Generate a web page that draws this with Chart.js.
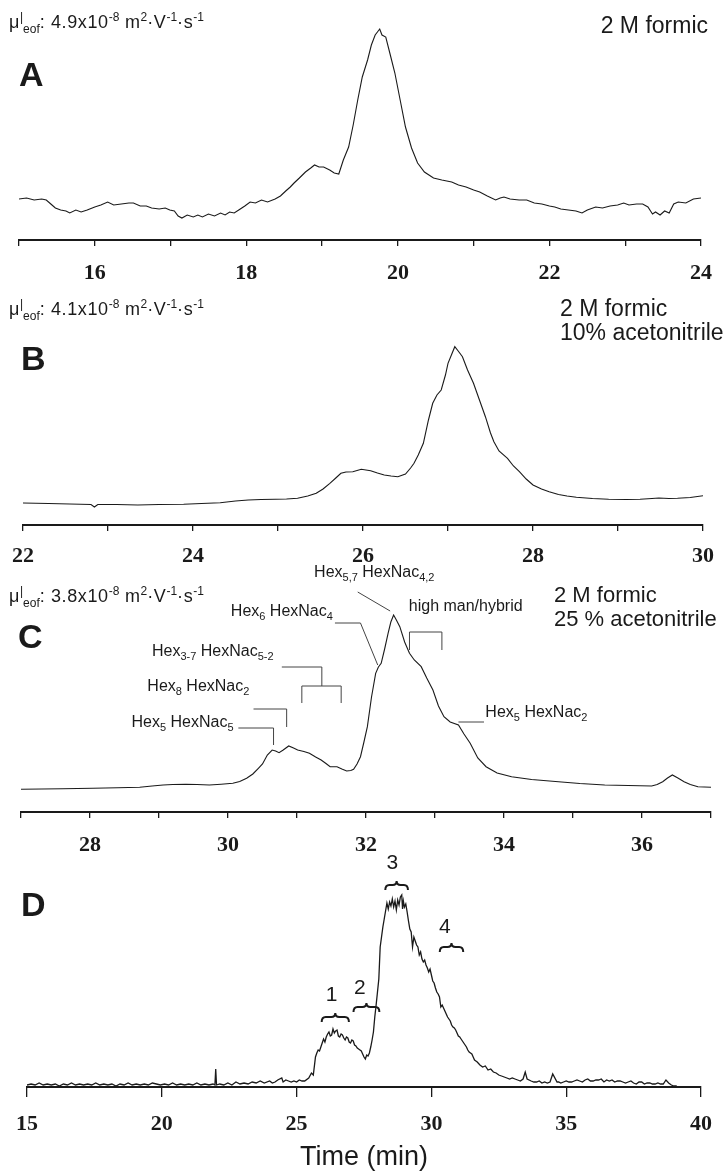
<!DOCTYPE html>
<html>
<head>
<meta charset="utf-8">
<script src="https://cdn.jsdelivr.net/npm/chart.js@4.4.0/dist/chart.umd.min.js"></script>
<style>
  html, body { margin: 0; padding: 0; background: #fff; }
  #page { position: relative; width: 726px; height: 1174px; overflow: hidden; font-family: "Liberation Sans", Arial, sans-serif; color: #1a1a1a; }
  canvas { position: absolute; left: 0; }
  .txt { position: absolute; white-space: nowrap; line-height: 1; }
  .mu { font-size: 18px; letter-spacing: 0.6px; }
  .mu sup, .mu sub { font-size: 12px; line-height: 0; letter-spacing: 0; }
  .cond { font-size: 23px; line-height: 24px; }
  .cond.c { font-size: 22px; }
  .panel { font-weight: bold; font-size: 34px; }
</style>
</head>
<body>
<div id="page">
  <canvas id="chartA" width="726" height="290" style="top:0px"></canvas>
  <canvas id="chartB" width="726" height="290" style="top:285px"></canvas>
  <canvas id="chartC" width="726" height="300" style="top:560px"></canvas>
  <canvas id="chartD" width="726" height="334" style="top:840px"></canvas>

  <div class="txt mu" style="left:9px;top:13px">μ<sup>|</sup><sub>eof</sub>: 4.9x10<sup>-8</sup> m<sup>2</sup>·V<sup>-1</sup>·s<sup>-1</sup></div>
  <div class="txt cond" style="right:18px;top:13px">2 M formic</div>
  <div class="txt panel" style="left:19px;top:57px">A</div>

  <div class="txt mu" style="left:9px;top:300px">μ<sup>|</sup><sub>eof</sub>: 4.1x10<sup>-8</sup> m<sup>2</sup>·V<sup>-1</sup>·s<sup>-1</sup></div>
  <div class="txt cond" style="left:560px;top:296px">2 M formic<br>10% acetonitrile</div>
  <div class="txt panel" style="left:21px;top:341px">B</div>

  <div class="txt mu" style="left:9px;top:587px">μ<sup>|</sup><sub>eof</sub>: 3.8x10<sup>-8</sup> m<sup>2</sup>·V<sup>-1</sup>·s<sup>-1</sup></div>
  <div class="txt cond c" style="left:554px;top:583px">2 M formic<br>25 % acetonitrile</div>
  <div class="txt panel" style="left:18px;top:619px">C</div>

  <div class="txt panel" style="left:21px;top:887px">D</div>
</div>

<script>
// A: 2 M formic
const timeA = [15.0, 15.1, 15.2, 15.3, 15.36, 15.42, 15.48, 15.55, 15.62, 15.67, 15.75, 15.82, 15.9, 16.0, 16.08, 16.17, 16.25, 16.35, 16.45, 16.51, 16.6, 16.68, 16.75, 16.85, 16.93, 16.99, 17.05, 17.1, 17.15, 17.22, 17.3, 17.36, 17.42, 17.5, 17.58, 17.66, 17.72, 17.78, 17.84, 17.9, 17.98, 18.05, 18.12, 18.2, 18.28, 18.38, 18.45, 18.52, 18.58, 18.63, 18.7, 18.78, 18.85, 18.9, 18.96, 19.02, 19.1, 19.16, 19.22, 19.28, 19.35, 19.41, 19.47, 19.53, 19.6, 19.65, 19.7, 19.74, 19.76, 19.79, 19.84, 19.9, 19.96, 20.03, 20.1, 20.18, 20.26, 20.35, 20.47, 20.58, 20.71, 20.8, 20.9, 21.0, 21.08, 21.18, 21.29, 21.35, 21.4, 21.48, 21.6, 21.7, 21.8, 21.9, 22.0, 22.07, 22.15, 22.25, 22.35, 22.43, 22.5, 22.61, 22.7, 22.8, 22.9, 22.98, 23.05, 23.15, 23.23, 23.3, 23.36, 23.4, 23.46, 23.52, 23.58, 23.64, 23.7, 23.8, 23.9, 24.0];
const signalA = [41, 42, 40, 41, 40, 36, 32, 30, 29, 27, 30, 28, 30, 33, 35, 38, 35, 36, 37, 37, 34, 34, 32, 31, 32, 30, 29, 24, 22, 25, 23, 25, 23, 26, 24, 27, 25, 28, 27, 30, 34, 38, 37, 40, 38, 41, 44, 49, 53, 57, 62, 68, 72, 75, 73, 73, 70, 67, 66, 80, 93, 115, 140, 163, 180, 195, 205, 209, 211, 205, 203, 185, 167, 140, 113, 92, 77, 68, 62, 60, 58, 55, 53, 50, 48, 44, 40, 42, 43, 41, 40, 40, 37, 36, 34, 33, 31, 30, 29, 27, 30, 33, 32, 34, 35, 37, 35, 36, 36, 33, 26, 28, 25, 29, 27, 36, 38, 37, 41, 42];
const ticksA = [15, 16, 17, 18, 19, 20, 21, 22, 23, 24];
const labelsA = [16, 18, 20, 22, 24];

// B: 2 M formic, 10% acetonitrile
const timeB = [22.0, 22.3, 22.55, 22.8, 22.84, 22.88, 23.1, 23.35, 23.6, 23.89, 24.1, 24.32, 24.5, 24.65, 24.8, 24.97, 25.1, 25.23, 25.35, 25.45, 25.53, 25.61, 25.68, 25.74, 25.8, 25.88, 25.98, 26.09, 26.17, 26.25, 26.33, 26.41, 26.5, 26.56, 26.6, 26.65, 26.71, 26.77, 26.82, 26.87, 26.92, 26.97, 27.0, 27.04, 27.08, 27.12, 27.17, 27.23, 27.3, 27.37, 27.44, 27.5, 27.54, 27.6, 27.7, 27.77, 27.84, 27.92, 28.0, 28.1, 28.19, 28.3, 28.4, 28.51, 28.7, 28.89, 29.1, 29.26, 29.4, 29.48, 29.6, 29.7, 29.85, 30.0];
const signalB = [22, 21.5, 21, 20.5, 18, 20.5, 20.5, 20, 20.5, 20.7, 21.5, 22.3, 24, 25, 25.5, 25.7, 26, 26.7, 29, 31.7, 36, 41.7, 47, 51.7, 53, 53.3, 55.7, 54.3, 52, 50, 49, 48.3, 51, 57, 61.7, 70, 81.7, 105, 121.7, 130, 135, 150, 161.7, 170, 178.3, 174, 168.3, 155, 141.7, 125, 108.3, 92, 83.3, 74, 66.7, 59, 53.3, 46, 40, 36, 33.3, 30.5, 29, 27.7, 26.5, 25.7, 25.5, 25.7, 26.5, 27, 26.5, 26.7, 27.5, 29.3];
const ticksB = [22, 23, 24, 25, 26, 27, 28, 29, 30];
const labelsB = [22, 24, 26, 28, 30];

// C: 2 M formic, 25 % acetonitrile
const timeC = [27.0, 27.3, 27.6, 28.04, 28.4, 28.72, 28.9, 29.06, 29.2, 29.39, 29.55, 29.73, 29.9, 30.07, 30.17, 30.27, 30.36, 30.44, 30.5, 30.57, 30.64, 30.69, 30.74, 30.8, 30.88, 30.95, 31.01, 31.1, 31.18, 31.27, 31.35, 31.42, 31.48, 31.58, 31.65, 31.72, 31.78, 31.82, 31.87, 31.92, 31.97, 32.02, 32.08, 32.14, 32.18, 32.22, 32.27, 32.32, 32.36, 32.4, 32.44, 32.49, 32.56, 32.63, 32.7, 32.8, 32.88, 32.97, 33.05, 33.13, 33.22, 33.34, 33.42, 33.51, 33.62, 33.74, 33.9, 34.11, 34.4, 34.79, 35.1, 35.46, 35.8, 36.14, 36.22, 36.3, 36.37, 36.44, 36.52, 36.61, 36.7, 36.81, 37.0];
const signalC = [22.7, 23, 23.2, 23.7, 24.2, 24.7, 26, 27, 27.5, 27.7, 27.5, 27, 27.8, 28.7, 30.5, 33.7, 38, 43.7, 48, 57, 62, 61, 59.3, 62, 66, 64, 62, 60.5, 58.7, 55, 52, 48.5, 45.3, 45.3, 43, 41, 41.5, 42.7, 48, 55.3, 70, 85.3, 115, 138.7, 145, 148.7, 163, 178.7, 190, 197, 192, 185.3, 170, 158.7, 152, 145.3, 134, 122, 106, 95.3, 90, 87, 78, 68.7, 54, 45.3, 39, 35.3, 32.5, 30.3, 28.5, 27, 26.5, 26, 27.5, 30.3, 34, 37, 34, 30.3, 27.5, 25.3, 24.7];
const ticksC = [27, 28, 29, 30, 31, 32, 33, 34, 35, 36, 37];
const labelsC = [28, 30, 32, 34, 36];

// glycan assignments in C: label anchors and leader lines in (time, signal)
const glycanLabels = [
  { parts: [['Hex', 0], ['5,7', 1], [' HexNac', 0], ['4,2', 1]], t: 32.12, h: 239, align: 'center' },
  { parts: [['high man/hybrid', 0]], t: 32.62, h: 205, align: 'left' },
  { parts: [['Hex', 0], ['6', 1], [' HexNac', 0], ['4', 1]], t: 31.52, h: 200, align: 'right' },
  { parts: [['Hex', 0], ['3-7', 1], [' HexNac', 0], ['5-2', 1]], t: 30.66, h: 160, align: 'right' },
  { parts: [['Hex', 0], ['8', 1], [' HexNac', 0], ['2', 1]], t: 30.31, h: 125, align: 'right' },
  { parts: [['Hex', 0], ['5', 1], [' HexNac', 0], ['5', 1]], t: 30.08, h: 89, align: 'right' },
  { parts: [['Hex', 0], ['5', 1], [' HexNac', 0], ['2', 1]], t: 33.73, h: 99, align: 'left' }
];
const glycanLeaders = [
  [[31.88, 220], [32.35, 201]],
  [[32.63, 162], [32.63, 180], [33.1, 180], [33.1, 162]],
  [[31.55, 189], [31.92, 189], [32.17, 147]],
  [[30.78, 145], [31.36, 145], [31.36, 126]],
  [[31.07, 109], [31.07, 126], [31.64, 126], [31.64, 109]],
  [[30.37, 103], [30.85, 103], [30.85, 85]],
  [[30.15, 84], [30.66, 84], [30.66, 67]],
  [[33.34, 90], [33.71, 90]]
];

// D: fraction collection run
const timeD = [15.0, 15.15, 15.3, 15.45, 15.6, 15.75, 15.9, 16.05, 16.2, 16.35, 16.5, 16.65, 16.8, 16.95, 17.1, 17.25, 17.4, 17.55, 17.7, 17.85, 18.0, 18.15, 18.3, 18.45, 18.6, 18.75, 18.9, 19.05, 19.2, 19.35, 19.5, 19.65, 19.8, 19.95, 20.1, 20.25, 20.4, 20.55, 20.7, 20.85, 21.0, 21.15, 21.3, 21.45, 21.6, 21.75, 21.9, 21.97, 22.0, 22.03, 22.15, 22.3, 22.45, 22.6, 22.75, 22.9, 23.05, 23.2, 23.35, 23.5, 23.65, 23.8, 24.0, 24.1, 24.2, 24.3, 24.45, 24.5, 24.6, 24.7, 24.8, 24.9, 25.0, 25.1, 25.2, 25.3, 25.45, 25.55, 25.62, 25.7, 25.75, 25.8, 25.85, 25.9, 25.95, 26.0, 26.05, 26.1, 26.15, 26.2, 26.25, 26.3, 26.35, 26.4, 26.45, 26.5, 26.55, 26.6, 26.65, 26.7, 26.75, 26.8, 26.85, 26.9, 26.95, 27.0, 27.05, 27.1, 27.15, 27.2, 27.25, 27.3, 27.35, 27.4, 27.45, 27.5, 27.55, 27.6, 27.65, 27.7, 27.75, 27.8, 27.85, 27.9, 27.95, 28.0, 28.05, 28.1, 28.15, 28.2, 28.25, 28.3, 28.35, 28.4, 28.45, 28.5, 28.55, 28.6, 28.65, 28.7, 28.75, 28.8, 28.85, 28.9, 28.93, 28.96, 29.0, 29.05, 29.1, 29.15, 29.2, 29.25, 29.3, 29.35, 29.4, 29.45, 29.5, 29.55, 29.6, 29.65, 29.7, 29.75, 29.8, 29.85, 29.9, 29.95, 30.0, 30.05, 30.1, 30.15, 30.2, 30.25, 30.3, 30.35, 30.4, 30.45, 30.5, 30.55, 30.6, 30.65, 30.7, 30.75, 30.8, 30.85, 30.9, 30.95, 31.0, 31.05, 31.1, 31.15, 31.2, 31.25, 31.3, 31.35, 31.4, 31.45, 31.5, 31.55, 31.6, 31.65, 31.7, 31.8, 31.9, 32.0, 32.1, 32.2, 32.3, 32.4, 32.5, 32.6, 32.7, 32.8, 32.9, 33.0, 33.1, 33.2, 33.3, 33.4, 33.48, 33.55, 33.7, 33.8, 33.9, 34.0, 34.1, 34.2, 34.3, 34.4, 34.5, 34.66, 34.72, 34.8, 34.9, 35.0, 35.1, 35.2, 35.3, 35.4, 35.5, 35.6, 35.7, 35.8, 35.9, 36.0, 36.1, 36.2, 36.3, 36.4, 36.5, 36.6, 36.7, 36.8, 36.9, 37.0, 37.1, 37.2, 37.3, 37.4, 37.5, 37.6, 37.7, 37.8, 37.9, 38.0, 38.1, 38.2, 38.3, 38.4, 38.5, 38.6, 38.7, 38.8, 38.9, 39.0, 39.05, 39.1, 39.25, 39.5, 39.8, 40.0];
const signalD = [2, 3, 2, 4, 2, 3, 2, 3, 1, 3, 2, 4, 2, 3, 2, 3, 2, 4, 2, 3, 2, 3, 1, 3, 2, 4, 2, 3, 2, 3, 2, 4, 3, 2, 3, 2, 4, 2, 3, 2, 3, 2, 4, 2, 3, 2, 3, 2, 18, 2, 3, 2, 4, 2, 5, 3, 4, 3, 5, 4, 6, 4, 6, 4, 5, 7, 9, 5, 7, 6, 5, 6, 5, 7, 6, 6, 9, 14, 12, 30, 34, 37, 36, 40, 44, 48, 45, 50, 53, 55, 51, 52, 58, 54, 56, 57, 51, 50, 53, 52, 49, 47, 50, 49, 45, 44, 47, 46, 42, 41, 39, 38, 37, 36, 33, 30, 28, 32, 31, 34, 40, 47, 55, 70, 82, 95, 108, 140, 150, 160, 168, 176, 184, 178, 185, 181, 188, 180, 186, 177, 187, 182, 190, 192, 178, 186, 180, 183, 175, 166, 158, 155, 140, 150, 146, 142, 140, 132, 135, 128, 125, 127, 122, 119, 115, 118, 112, 106, 104, 99, 95, 93, 90, 80, 82, 79, 76, 73, 70, 68, 66, 62, 60, 59, 57, 54, 51, 50, 48, 46, 44, 42, 40, 37, 35, 34, 33, 30, 27, 26, 25, 22, 20, 21, 17, 18, 15, 14, 12, 11, 10, 9, 8, 9, 8, 7, 6, 8, 15, 8, 6, 5, 5, 6, 4, 5, 4, 5, 13, 5, 5, 4, 5, 6, 5, 5, 6, 7, 6, 5, 7, 8, 6, 6, 7, 7, 8, 5, 7, 6, 7, 5, 6, 6, 5, 4, 5, 6, 4, 3, 5, 5, 3, 4, 4, 3, 3, 4, 3, 3, 7, 4, 2, 1, 1, 1];
const ticksD = [15, 20, 25, 30, 35, 40];
const labelsD = [15, 20, 25, 30, 35, 40];

// collected fractions 1-4 in D
const fractionNames = ['1', '2', '3', '4'];
const fractionStart = [25.93, 27.11, 28.29, 30.31];
const fractionEnd = [26.94, 28.07, 29.13, 31.18];
const fractionLevel = [70, 80, 202, 140];
const fractionLabelT = [26.3, 27.35, 28.55, 30.5];
const fractionLabelH = [92, 99, 224, 160];

const INK = '#1a1a1a';
const SANS = '"Liberation Sans", Arial, sans-serif';

function drawRich(ctx, parts, x, y, align) {
  const big = '16px ' + SANS, small = '11px ' + SANS;
  let w = 0;
  parts.forEach(([s, sub]) => { ctx.font = sub ? small : big; w += ctx.measureText(s).width; });
  let cx = align === 'right' ? x - w : align === 'center' ? x - w / 2 : x;
  ctx.textAlign = 'left';
  ctx.textBaseline = 'middle';
  ctx.fillStyle = INK;
  parts.forEach(([s, sub]) => {
    ctx.font = sub ? small : big;
    ctx.fillText(s, cx, sub ? y + 5 : y);
    cx += ctx.measureText(s).width;
  });
}

const glycanPlugin = {
  id: 'glycans',
  afterDatasetsDraw(chart) {
    const { ctx, scales: { x, y } } = chart;
    ctx.save();
    ctx.strokeStyle = '#444';
    ctx.lineWidth = 1;
    glycanLeaders.forEach(path => {
      ctx.beginPath();
      path.forEach(([t, h], i) => {
        const px = x.getPixelForValue(t), py = y.getPixelForValue(h);
        if (i === 0) ctx.moveTo(px, py); else ctx.lineTo(px, py);
      });
      ctx.stroke();
    });
    glycanLabels.forEach(l => drawRich(ctx, l.parts, x.getPixelForValue(l.t), y.getPixelForValue(l.h), l.align));
    ctx.restore();
  }
};

const fractionPlugin = {
  id: 'fractions',
  afterDatasetsDraw(chart) {
    const { ctx, scales: { x, y } } = chart;
    ctx.save();
    ctx.strokeStyle = INK;
    ctx.lineWidth = 2;
    fractionNames.forEach((name, i) => {
      const x1 = x.getPixelForValue(fractionStart[i]);
      const x2 = x.getPixelForValue(fractionEnd[i]);
      const yy = y.getPixelForValue(fractionLevel[i]);
      const xm = (x1 + x2) / 2;
      // over-brace
      ctx.beginPath();
      ctx.moveTo(x1, yy + 5);
      ctx.quadraticCurveTo(x1, yy, x1 + 4, yy);
      ctx.lineTo(xm - 4, yy);
      ctx.quadraticCurveTo(xm, yy, xm, yy - 4);
      ctx.quadraticCurveTo(xm, yy, xm + 4, yy);
      ctx.lineTo(x2 - 4, yy);
      ctx.quadraticCurveTo(x2, yy, x2, yy + 5);
      ctx.stroke();
      ctx.font = '21px ' + SANS;
      ctx.fillStyle = INK;
      ctx.textAlign = 'center';
      ctx.textBaseline = 'middle';
      ctx.fillText(name, x.getPixelForValue(fractionLabelT[i]), y.getPixelForValue(fractionLabelH[i]));
    });
    ctx.restore();
  }
};

function makeChart(id, times, signal, cfg) {
  const ctx = document.getElementById(id).getContext('2d');
  return new Chart(ctx, {
    type: 'line',
    data: {
      datasets: [{
        data: times.map((t, i) => ({ x: t, y: signal[i] })),
        borderColor: INK,
        borderWidth: cfg.lineWidth || 1.1,
        pointRadius: 0,
        fill: false,
        tension: 0
      }]
    },
    options: {
      responsive: false,
      animation: false,
      devicePixelRatio: 1,
      layout: { padding: { left: cfg.left, right: cfg.right, top: 0, bottom: 0 } },
      plugins: { legend: { display: false }, tooltip: { enabled: false } },
      scales: {
        x: {
          type: 'linear',
          min: cfg.ticks[0],
          max: cfg.ticks[cfg.ticks.length - 1],
          afterFit: scale => { scale.height = cfg.axisHeight; },
          afterBuildTicks: axis => { axis.ticks = cfg.ticks.map(v => ({ value: v })); },
          ticks: {
            autoSkip: false,
            maxRotation: 0,
            padding: cfg.labelPad,
            color: INK,
            font: { family: '"Liberation Serif", "Times New Roman", serif', weight: 'bold', size: 22 },
            callback: v => cfg.labels.includes(v) ? String(v) : ''
          },
          grid: { drawOnChartArea: false, drawTicks: true, tickLength: cfg.tickLength, color: INK, lineWidth: 1.3 },
          border: { display: true, color: INK, width: 2 },
          title: cfg.title ? {
            display: true,
            text: cfg.title,
            color: INK,
            font: { family: SANS, size: 27 },
            padding: { top: 0, bottom: 0 }
          } : { display: false }
        },
        y: { display: false, min: 0, max: cfg.yMax }
      }
    },
    plugins: cfg.plugins || []
  });
}

makeChart('chartA', timeA, signalA, { left: 19, right: 18, axisHeight: 50, yMax: 240, ticks: ticksA, labels: labelsA, labelPad: 14, tickLength: 6 });
makeChart('chartB', timeB, signalB, { left: 23, right: 15, axisHeight: 50, yMax: 240, ticks: ticksB, labels: labelsB, labelPad: 12, tickLength: 6 });
makeChart('chartC', timeC, signalC, { left: 21, right: 15, axisHeight: 48, yMax: 252, ticks: ticksC, labels: labelsC, labelPad: 14, tickLength: 6, plugins: [glycanPlugin] });
makeChart('chartD', timeD, signalD, { left: 27, right: 15, axisHeight: 87, yMax: 247, ticks: ticksD, labels: labelsD, labelPad: 14, tickLength: 10, lineWidth: 1.3, title: 'Time (min)', plugins: [fractionPlugin] });
</script>
</body>
</html>
